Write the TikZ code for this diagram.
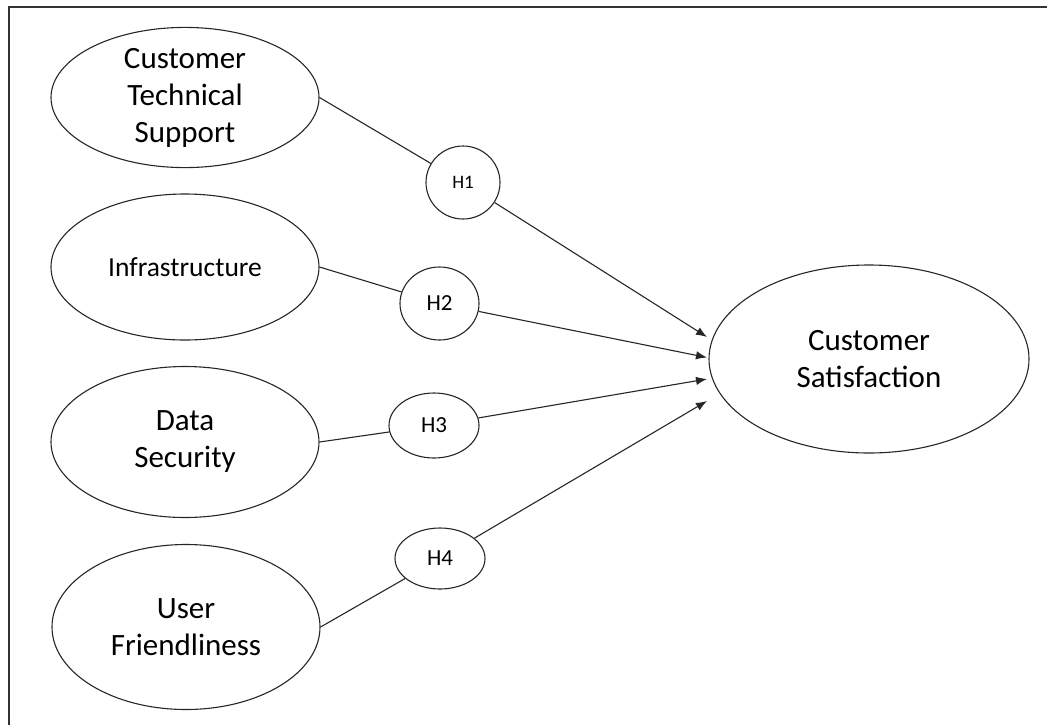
\documentclass[tikz,border=0pt]{standalone}
\usepackage{fontspec}
\setmainfont{Carlito}
\usetikzlibrary{shapes.geometric,arrows.meta}
\begin{document}
\begin{tikzpicture}[x=1pt,y=-1pt,
  construct/.style={draw=black!85,line width=1.1pt,ellipse,inner sep=0pt,align=center,
    font=\fontsize{31}{37}\selectfont},
  hyp/.style={draw=black!85,line width=1.1pt,ellipse,inner sep=0pt,
    font=\fontsize{23}{27}\selectfont},
  link/.style={draw=black!85,line width=1.1pt},
  arrowlink/.style={link,-{Latex[length=11pt,width=8.5pt]}},
  frame/.style={draw=black!80,line width=2pt}]
\useasboundingbox (0,0) rectangle (1047,724);
\draw[frame] (1050,7) -- (9,7) -- (9,727);

\node[construct,minimum width=268pt,minimum height=137pt] (cts) at (185,97.5) {Customer\\Technical\\Support};
\node[construct,minimum width=268pt,minimum height=146pt,font=\fontsize{27.5}{33}\selectfont] (infra) at (185,267) {Infrastructure};
\node[construct,minimum width=268pt,minimum height=151pt] (data) at (185,442) {Data\\Security};
\node[construct,minimum width=268pt,minimum height=165pt] (uf) at (186,627) {User\\Friendliness};
\node[construct,minimum width=320pt,minimum height=188pt] (cs) at (869,359) {Customer\\Satisfaction};

\node[hyp,minimum width=74pt,minimum height=73pt,font=\fontsize{19}{23}\selectfont] (h1) at (463,182.5) {H1};
\node[hyp,minimum width=79pt,minimum height=73pt] (h2) at (439.5,303.5) {H2};
\node[hyp,minimum width=90pt,minimum height=65pt] (h3) at (434,425.5) {H3};
\node[hyp,minimum width=90pt,minimum height=61pt] (h4) at (440,558.5) {H4};

\coordinate (t1) at (707,337);
\coordinate (t2) at (707,357.5);
\coordinate (t3) at (707,379);
\coordinate (t4) at (707,401);

\draw[link] (cts.east) -- (h1);
\draw[link] (infra.east) -- (h2);
\draw[link] (data.east) -- (h3);
\draw[link] (uf.east) -- (h4);

\draw[arrowlink] (h1) -- (t1);
\draw[arrowlink] (h2) -- (t2);
\draw[arrowlink] (h3) -- (t3);
\draw[arrowlink] (h4) -- (t4);
\end{tikzpicture}
\end{document}
